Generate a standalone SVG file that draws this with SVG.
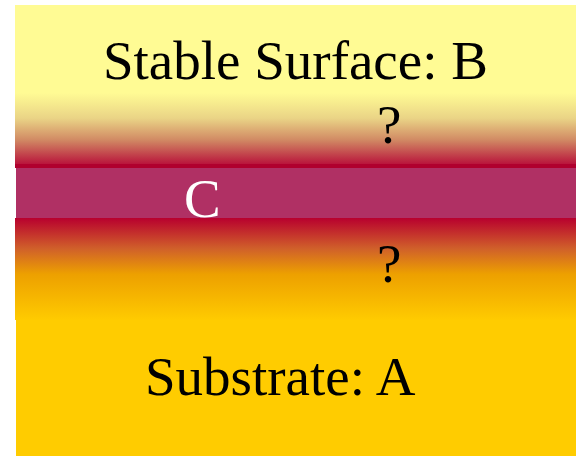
<svg xmlns="http://www.w3.org/2000/svg" width="576" height="456" viewBox="0 0 576 456">
<defs>
<linearGradient id="gTop" x1="0" y1="0" x2="0" y2="1">
<stop offset="0" stop-color="#FFFB94"/>
<stop offset="0.35" stop-color="#EAD486"/>
<stop offset="0.65" stop-color="#D18A64"/>
<stop offset="1" stop-color="#B8103A"/>
</linearGradient>
<linearGradient id="gBot" x1="0" y1="0" x2="0" y2="1">
<stop offset="0" stop-color="#B8002E"/>
<stop offset="0.3" stop-color="#D0602A"/>
<stop offset="0.55" stop-color="#EDA000"/>
<stop offset="1" stop-color="#FFCB00"/>
</linearGradient>
<style>
text{font-family:"Liberation Serif","Times New Roman",serif;font-size:55px;fill:#000}
.w{fill:#FFFFFF}
</style>
</defs>
<g id="surface">
<rect x="15" y="5" width="561" height="89" fill="#FFFB94"/>
<rect x="15" y="93" width="561" height="72" fill="url(#gTop)"/>
<rect x="15" y="164" width="561" height="4" fill="#B0002E"/>
<text x="103" y="79">Stable Surface: B</text>
<text x="377" y="143">?</text>
</g>
<g id="interlayer">
<rect x="16" y="168" width="560" height="50" fill="#B03064"/>
<text class="w" x="184" y="217">C</text>
</g>
<g id="substrate">
<rect x="15" y="218" width="561" height="102" fill="url(#gBot)"/>
<rect x="16" y="320" width="560" height="136" fill="#FFCC00"/>
<text x="377" y="282">?</text>
<text x="145" y="395">Substrate: A</text>
</g>
</svg>
